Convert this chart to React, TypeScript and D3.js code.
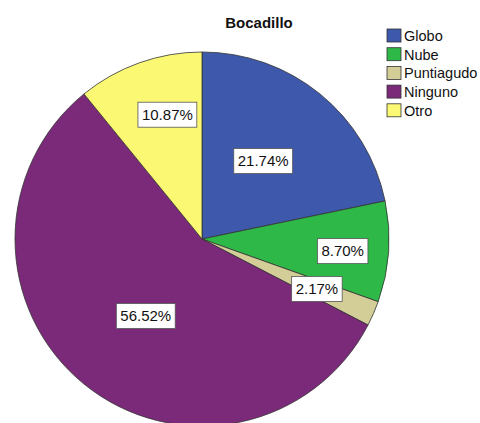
import * as d3 from 'd3';
import React, { useEffect, useRef } from 'react';

const categories = ['Globo', 'Nube', 'Puntiagudo', 'Ninguno', 'Otro'];
const percents = [21.74, 8.7, 2.17, 56.52, 10.87];
const colors = ['#3E58AC', '#2EB848', '#D3CE97', '#7B2979', '#FBF873'];
const title = 'Bocadillo';

// label placement: fraction of radius and angle nudge (deg) per slice
const labelRadius = [0.53, 0.755, 0.67, 0.51, 0.69];
const labelNudge = [-1, 1, 0, -3, 4];

export default function App() {
  const ref = useRef<SVGSVGElement>(null);

  useEffect(() => {
    const width = 480;
    const height = 423;
    const cx = 202;
    const cy = 239;
    const r = 187;

    const svg = d3.select(ref.current).attr('width', width).attr('height', height);
    svg.selectAll('*').remove();
    svg.append('rect').attr('width', width).attr('height', height).attr('fill', '#fff');

    const data = categories.map((name, i) => ({ name, value: percents[i], color: colors[i] }));

    const pie = d3
      .pie<{ name: string; value: number; color: string }>()
      .sort(null)
      .value((d) => d.value);
    const arcs = pie(data);
    const arc = d3.arc<d3.PieArcDatum<{ name: string; value: number; color: string }>>()
      .innerRadius(0)
      .outerRadius(r);

    const g = svg.append('g').attr('transform', `translate(${cx},${cy})`);
    g.selectAll('path')
      .data(arcs)
      .join('path')
      .attr('d', arc)
      .attr('fill', (d) => d.data.color)
      .attr('stroke', '#333')
      .attr('stroke-width', 0.8);

    const font = '"Liberation Sans", Arial, sans-serif';

    arcs.forEach((a, i) => {
      const mid = (a.startAngle + a.endAngle) / 2 + (labelNudge[i] * Math.PI) / 180;
      const lr = r * labelRadius[i];
      const x = Math.sin(mid) * lr;
      const y = -Math.cos(mid) * lr;
      const label = g.append('g').attr('transform', `translate(${x},${y})`);
      const txt = label
        .append('text')
        .attr('text-anchor', 'middle')
        .attr('dy', '0.35em')
        .attr('font-family', font)
        .attr('font-size', 15)
        .attr('fill', '#111')
        .text(`${a.data.value.toFixed(2)}%`);
      const bb = (txt.node() as SVGTextElement).getBBox();
      label
        .insert('rect', 'text')
        .attr('x', bb.x - 4)
        .attr('y', -12.5)
        .attr('width', bb.width + 8)
        .attr('height', 25)
        .attr('fill', '#fff')
        .attr('stroke', '#555')
        .attr('stroke-width', 0.8);
    });

    svg
      .append('text')
      .attr('x', 259)
      .attr('y', 28)
      .attr('text-anchor', 'middle')
      .attr('font-family', font)
      .attr('font-weight', 'bold')
      .attr('font-size', 15)
      .attr('fill', '#111')
      .text(title);

    const legend = svg.append('g').attr('transform', 'translate(387,29)');
    const rows = legend
      .selectAll('g')
      .data(data)
      .join('g')
      .attr('transform', (_, i) => `translate(0,${i * 18.7})`);
    rows
      .append('rect')
      .attr('width', 14)
      .attr('height', 13)
      .attr('fill', (d) => d.color)
      .attr('stroke', '#333')
      .attr('stroke-width', 0.8);
    rows
      .append('text')
      .attr('x', 17)
      .attr('y', 12)
      .attr('font-family', font)
      .attr('font-size', 14.5)
      .attr('fill', '#111')
      .text((d) => d.name);
  }, []);

  return <svg ref={ref} style={{ display: 'block', position: 'absolute', left: 0, top: 0 }}></svg>;
}
